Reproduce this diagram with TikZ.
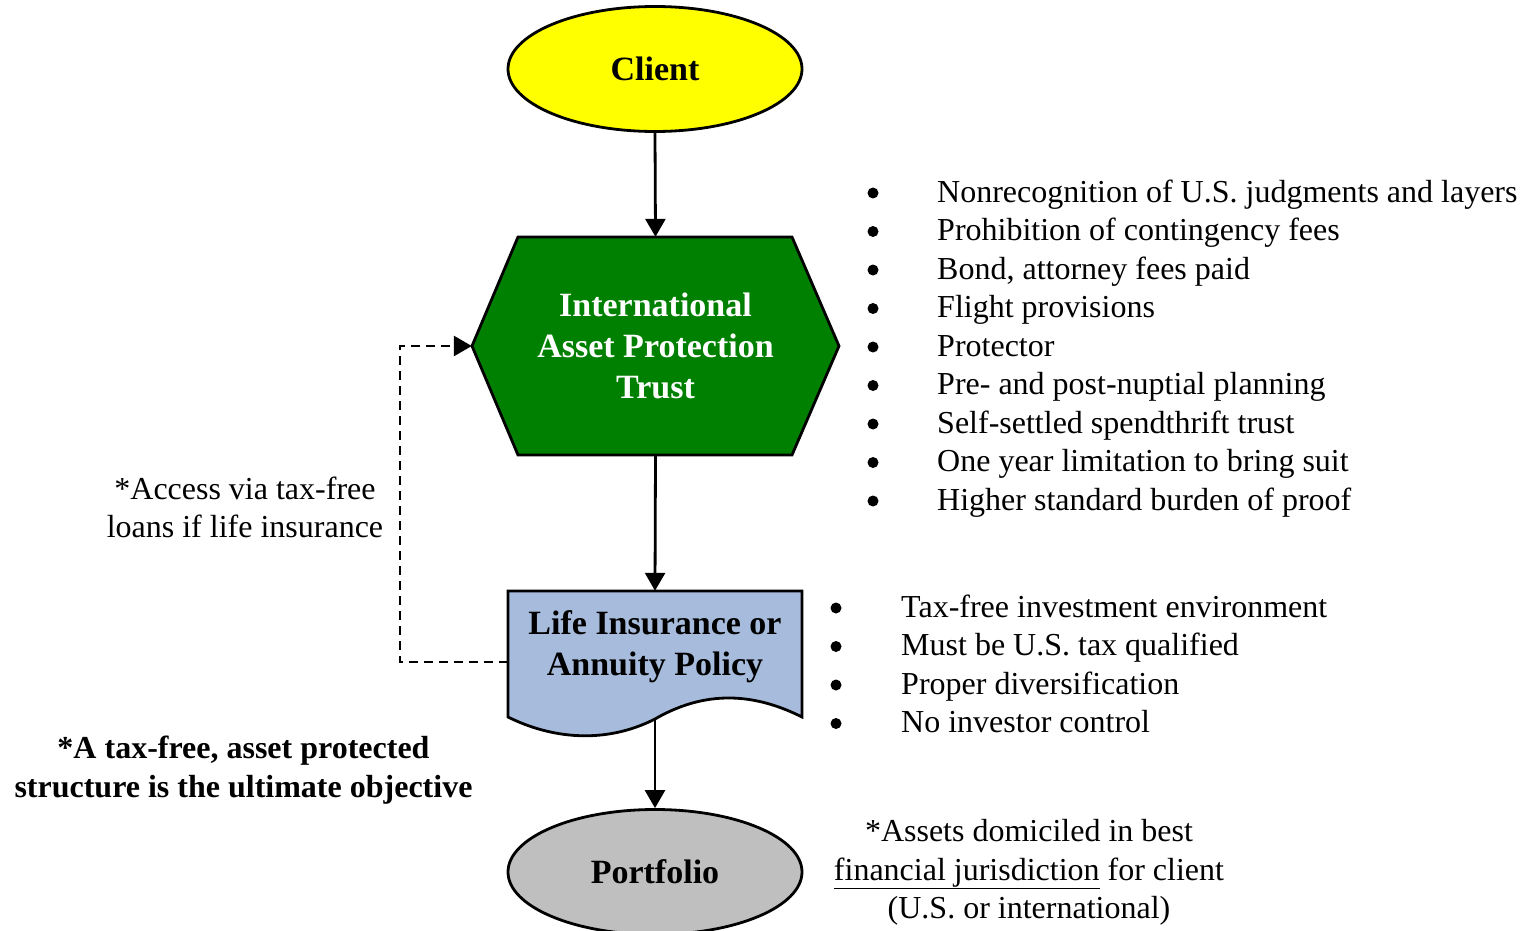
\documentclass[tikz,border=0pt]{standalone}
\usepackage{fontspec}
\setmainfont{Liberation Serif}
\usetikzlibrary{shapes.geometric,arrows.meta}
\definecolor{clientfill}{RGB}{255,255,0}
\definecolor{trustfill}{RGB}{0,128,0}
\definecolor{policyfill}{RGB}{167,188,220}
\definecolor{portfill}{RGB}{191,191,191}
\begin{document}
\begin{tikzpicture}[x=1pt,y=-1pt,
  outline/.style={draw=black,line width=2.8pt,line join=miter},
  bigtext/.style={font=\fontsize{34}{41}\selectfont\bfseries,align=center,inner sep=0pt},
  bodytext/.style={font=\fontsize{32}{38.5}\selectfont,inner sep=0pt},
  bulletdot/.style={circle,fill=black,inner sep=0pt,minimum size=11pt},
  flow/.style={line width=2.8pt,-{Triangle[length=18pt,width=20pt]}},
  access/.style={line width=2.8pt,dash pattern=on 9pt off 6pt,-{Triangle[length=18pt,width=20pt]}},
  oval/.style={ellipse,outline,minimum width=294pt,minimum height=125pt,bigtext}]
\useasboundingbox (0,0) rectangle (1527,931);

% main column
\node[oval,fill=clientfill] (client) at (655,69) {Client};

\fill[trustfill] (518,237) -- (792,237) -- (839,346) -- (792,455) -- (518,455) -- (472,346) -- cycle;
\draw[outline] (518,237) -- (792,237) -- (839,346) -- (792,455) -- (518,455) -- (472,346) -- cycle;
\node[minimum width=367pt,minimum height=218pt,inner sep=0pt] (trust) at (655.5,346) {};
\node[bigtext,text=white] (trusttext) at (655.5,346) {International\\Asset Protection\\Trust};

\path[fill=policyfill] (508,591) -- (802,591) -- (802,717)
  .. controls (762,697) and (712,686) .. (655,719)
  .. controls (604,745) and (550,738) .. (508,717) -- cycle;
\draw[outline] (508,591) -- (802,591) -- (802,717)
  .. controls (762,697) and (712,686) .. (655,719)
  .. controls (604,745) and (550,738) .. (508,717) -- cycle;
\node[minimum width=294pt,minimum height=142pt,inner sep=0pt] (policy) at (655,662) {};
\node[bigtext] (policytext) at (655,646.5) {Life Insurance or\\Annuity Policy};
\coordinate (policybottom) at (655,719);

\node[oval,fill=portfill] (portfolio) at (655,872) {Portfolio};

% connectors
\draw[flow] (client.south) -- (trust.north);
\draw[flow] (trust.south) -- (policy.north);
\draw[flow] (policybottom) -- (portfolio.north);
\coordinate (loopcorner) at (400,346);
\draw[access] (policy.west) -| (loopcorner) -- (trust.west);

% side notes
\node[bodytext,align=center] (accessnote) at (245,507.5) {*Access via tax-free\\loans if life insurance};
\node[bodytext,align=center,font=\fontsize{32}{38.5}\selectfont\bfseries] (objective) at (243.5,770)
  {*A tax-free, asset protected\\structure is the ultimate objective};
\node[bodytext,align=center] (domicile) at (1029,872.5)
  {*Assets domiciled in best\\\underline{financial jurisdiction} for client\\(U.S. or international)};

% trust features
\foreach \txt [count=\i] in {Nonrecognition of U.S. judgments and layers,
    Prohibition of contingency fees, {Bond, attorney fees paid}, Flight provisions,
    Protector, Pre- and post-nuptial planning, Self-settled spendthrift trust,
    One year limitation to bring suit, Higher standard burden of proof} {
  \node[bulletdot] (tb\i) at (873,{193+38.5*(\i-1)}) {};
  \node[bodytext,anchor=base west] (tt\i) at (937,{192+38.5*(\i-1)+10}) {\txt};
}

% policy features
\foreach \txt [count=\i] in {Tax-free investment environment, Must be U.S. tax qualified,
    Proper diversification, No investor control} {
  \node[bulletdot] (pb\i) at (836,{608+38.5*(\i-1)}) {};
  \node[bodytext,anchor=base west] (pt\i) at (901,{607+38.5*(\i-1)+10}) {\txt};
}
\end{tikzpicture}
\end{document}
